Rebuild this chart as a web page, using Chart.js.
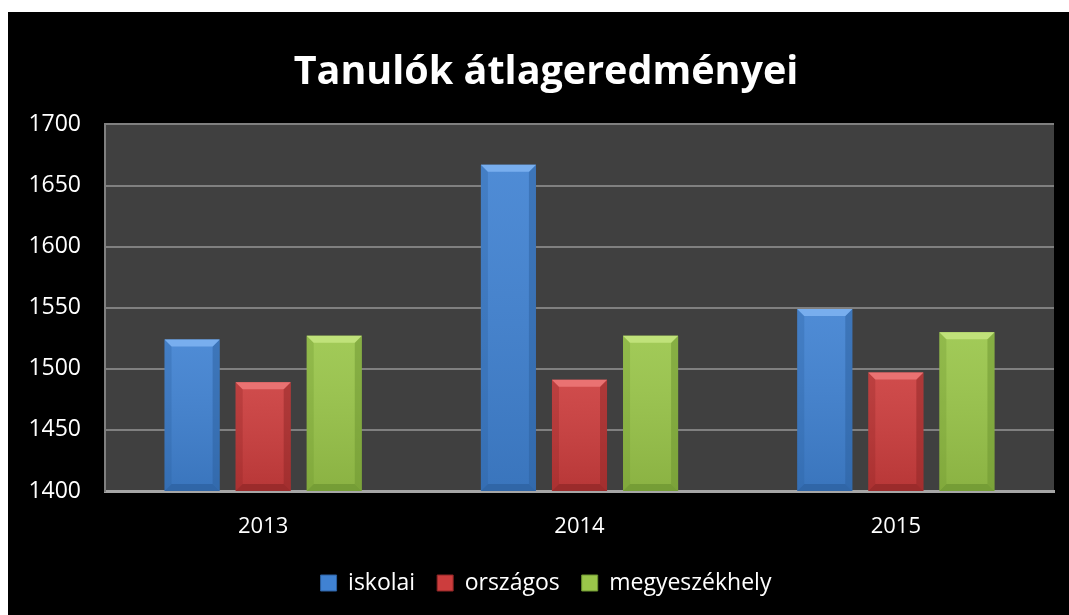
<!DOCTYPE html>
<html>
<head>
<meta charset="utf-8">
<script src="https://cdn.jsdelivr.net/npm/chart.js@4/dist/chart.umd.min.js"></script>
<style>
    html, body { margin: 0; padding: 0; background: #ffffff; }
    #wrap {
        position: absolute;
        left: 8px;
        top: 12px;
        width: 1061px;
        height: 603px;
        background: #000000;
    }
</style>
</head>
<body>
<div id="wrap"><canvas id="chart" width="1061" height="603"></canvas></div>
<script>

// =========================================
// Data
// =========================================

const years = ["2013", "2014", "2015"];

const iskolai = [1524, 1667, 1549];
const orszagos = [1489, 1491, 1497];
const megyeszekhely = [1527, 1527, 1530];

const seriesNames = ["iskolai", "országos", "megyeszékhely"];

const yTicks = [1400, 1450, 1500, 1550, 1600, 1650, 1700];

const FONT = "'Open Sans', 'Liberation Sans', sans-serif";

// base, light, dark
const palette = [
    ["#4082d2", "#78aeee", "#2c5f9e"],
    ["#cc3d3d", "#ea7272", "#8e2626"],
    ["#9ac64a", "#c0e27a", "#6c9430"]
];


// =========================================
// Plot background
// =========================================

const plotBackground = {

    id: "plotBackground",

    // let the y labels use the space left of the axis box
    afterLayout(chart) {

        chart.scales.y.left = 0;

    },

    beforeDraw(chart) {

        const { ctx, chartArea } = chart;

        ctx.save();
        ctx.fillStyle = "#404040";
        ctx.fillRect(chartArea.left, chartArea.top,
            chartArea.right - chartArea.left, chartArea.bottom - chartArea.top);
        ctx.restore();

    }

};


// =========================================
// Bevel on bars
// =========================================

function poly(ctx, pts, fill, alpha) {

    ctx.globalAlpha = alpha;
    ctx.fillStyle = fill;
    ctx.beginPath();
    ctx.moveTo(pts[0][0], pts[0][1]);
    pts.slice(1).forEach(p => ctx.lineTo(p[0], p[1]));
    ctx.closePath();
    ctx.fill();

}

const barBevel = {

    id: "barBevel",

    afterDatasetsDraw(chart) {

        const ctx = chart.ctx;
        const area = chart.chartArea;

        chart.data.datasets.forEach((ds, i) => {

            const meta = chart.getDatasetMeta(i);
            const col = palette[i];

            meta.data.forEach(bar => {

                const p = bar.getProps(["x", "y", "base", "width"], true);
                const l = p.x - p.width / 2;
                const r = p.x + p.width / 2;
                const t = p.y;
                const b = Math.min(p.base, area.bottom);
                const s = 7;

                ctx.save();

                // soft vertical shading
                const g = ctx.createLinearGradient(0, t, 0, b);
                g.addColorStop(0, "rgba(255,255,255,0.08)");
                g.addColorStop(1, "rgba(0,0,0,0.10)");
                ctx.fillStyle = g;
                ctx.fillRect(l, t, r - l, b - t);

                // left edge
                poly(ctx, [[l, t], [l + s, t + s], [l + s, b - s], [l, b]], col[2], 0.3);

                // right edge
                poly(ctx, [[r, t], [r - s, t + s], [r - s, b - s], [r, b]], col[2], 0.5);

                // bottom edge
                poly(ctx, [[l, b], [r, b], [r - s, b - s], [l + s, b - s]], col[2], 0.7);

                // top bevel
                poly(ctx, [[l, t], [r, t], [r - s, t + s], [l + s, t + s]], col[1], 1);

                ctx.restore();

            });

        });

    }

};


// =========================================
// Chart
// =========================================

const seriesValues = [iskolai, orszagos, megyeszekhely];

new Chart(document.getElementById("chart"), {

    type: "bar",

    data: {

        labels: years,

        datasets: seriesValues.map((values, i) => ({

            label: seriesNames[i],
            data: values,
            backgroundColor: palette[i][0],
            borderWidth: 0,
            categoryPercentage: 0.674,
            barPercentage: 0.775

        }))

    },

    options: {

        responsive: false,
        animation: false,
        devicePixelRatio: 1,

        layout: {
            padding: { left: 30, right: 15, top: 0, bottom: 10.5 }
        },

        plugins: {

            title: {
                display: true,
                text: "Tanulók átlageredményei",
                color: "#ffffff",
                font: { family: FONT, size: 39.5, weight: "bold" },
                padding: { top: 37, bottom: 28 }
            },

            legend: {
                position: "bottom",
                labels: {
                    color: "#ffffff",
                    font: { family: FONT, size: 23 },
                    boxWidth: 16,
                    boxHeight: 16,
                    padding: 22,
                    generateLabels: (chart) => chart.data.datasets.map((ds, i) => ({
                        text: ds.label,
                        fillStyle: palette[i][0],
                        strokeStyle: palette[i][2],
                        lineWidth: 1,
                        fontColor: "#ffffff",
                        datasetIndex: i
                    }))
                }
            },

            tooltip: { enabled: false }

        },

        scales: {

            x: {
                afterFit: (axis) => {
                    axis.height = 58.5;
                },
                grid: { display: false, drawTicks: false },
                border: { color: "#a6a6a6", width: 3 },
                ticks: {
                    color: "#ffffff",
                    font: { family: FONT, size: 22 },
                    padding: 23
                }
            },

            y: {
                min: 1400,
                max: 1700,
                afterBuildTicks: (axis) => {
                    axis.ticks = yTicks.map(v => ({ value: v }));
                },
                afterFit: (axis) => {
                    axis.width = 67;
                },
                grid: {
                    color: "#808080",
                    lineWidth: 2,
                    drawTicks: false
                },
                border: { color: "#808080", width: 2 },
                ticks: {
                    color: "#ffffff",
                    font: { family: FONT, size: 23 },
                    padding: 24,
                    callback: (v) => String(v)
                }
            }

        }

    },

    plugins: [plotBackground, barBevel]

});

</script>
</body>
</html>
